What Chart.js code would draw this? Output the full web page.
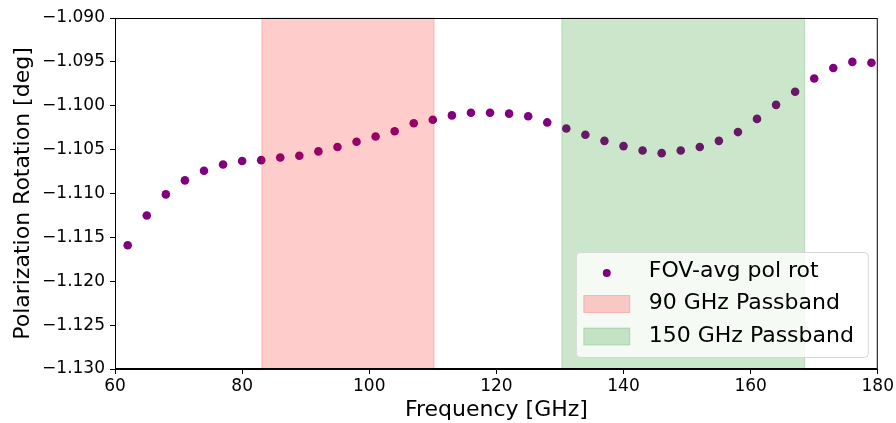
<!DOCTYPE html>
<html>
<head>
<meta charset="utf-8">
<script src="https://cdn.jsdelivr.net/npm/chart.js@4"></script>
<style>
  html, body { margin: 0; padding: 0; background: #fff; }
  #wrap { width: 896px; height: 423px; }
</style>
</head>
<body>
<div id="wrap"><canvas id="chartRot"></canvas></div>
<script>
// frequencies (GHz) and FOV-averaged polarization rotation (deg)
const freqGHz = [62, 65, 68, 71, 74, 77, 80, 83, 86, 89, 92, 95, 98, 101, 104, 107, 110, 113, 116, 119,
                 122, 125, 128, 131, 134, 137, 140, 143, 146, 149, 152, 155, 158, 161, 164, 167, 170, 173, 176, 179];
const polRot = [-1.1159, -1.1125, -1.1101, -1.1085, -1.1074, -1.1067, -1.1063, -1.1062, -1.1059, -1.1057,
                -1.1052, -1.1047, -1.1041, -1.1035, -1.1029, -1.1020, -1.1016, -1.1011, -1.1008, -1.1008,
                -1.1009, -1.1012, -1.1019, -1.1026, -1.1033, -1.1040, -1.1046, -1.1051, -1.1054, -1.1051,
                -1.1047, -1.1040, -1.1030, -1.1015, -1.0999, -1.0984, -1.0969, -1.0957, -1.0950, -1.0951];
// passband edges (GHz)
const band90 = [83.1, 110.2];
const band150 = [130.3, 168.5];
const xTicks = [60, 80, 100, 120, 140, 160, 180];
const yTicks = [-1.130, -1.125, -1.120, -1.115, -1.110, -1.105, -1.100, -1.095, -1.090];

const FONT = "'DejaVu Sans', sans-serif";
const red20 = 'rgba(255,0,0,0.2)';
const green20 = 'rgba(0,128,0,0.2)';

const fmt = v => (v < 0 ? '\u2212' : '') + Math.abs(v).toFixed(3);

// shaded passbands, drawn over the points like axvspan
const bandsPlugin = {
  id: 'bands',
  afterDatasetsDraw(chart) {
    const { ctx, chartArea: a, scales: { x } } = chart;
    ctx.save();
    [[band90, red20], [band150, green20]].forEach(([b, c]) => {
      const x0 = x.getPixelForValue(b[0]);
      const x1 = x.getPixelForValue(b[1]);
      ctx.fillStyle = c;
      ctx.fillRect(x0, a.top, x1 - x0, a.bottom - a.top);
      ctx.strokeStyle = c;
      ctx.lineWidth = 1;
      ctx.strokeRect(x0, a.top, x1 - x0, a.bottom - a.top);
    });
    // axes frame
    ctx.strokeStyle = '#000';
    ctx.lineWidth = 1;
    ctx.strokeRect(a.left + 0.5, a.top + 0.5, a.right - a.left - 1, a.bottom - a.top - 1);
    ctx.restore();
  }
};

// legend box in the lower right corner
const legendPlugin = {
  id: 'boxLegend',
  afterDraw(chart) {
    const { ctx, chartArea: a } = chart;
    const w = 292, h = 105;
    const lx = a.right - 10 - w, ly = a.bottom - 12 - h;
    ctx.save();
    ctx.beginPath();
    ctx.roundRect(lx + 0.5, ly + 0.5, w, h, 4);
    ctx.fillStyle = 'rgba(255,255,255,0.8)';
    ctx.fill();
    ctx.strokeStyle = '#d6d6d6';
    ctx.lineWidth = 1;
    ctx.stroke();

    const items = [
      { label: 'FOV-avg pol rot', kind: 'dot' },
      { label: '90 GHz Passband', kind: 'patch', color: red20 },
      { label: '150 GHz Passband', kind: 'patch', color: green20 }
    ];
    ctx.font = '22px ' + FONT;
    ctx.textBaseline = 'middle';
    items.forEach((it, i) => {
      const cy = ly + 19 + i * 32.5;
      if (it.kind === 'dot') {
        ctx.beginPath();
        ctx.arc(lx + 31, cy + 2, 4, 0, Math.PI * 2);
        ctx.fillStyle = '#800080';
        ctx.fill();
      } else {
        ctx.fillStyle = it.color;
        ctx.fillRect(lx + 8, cy - 8, 46, 17);
        ctx.strokeStyle = it.color;
        ctx.strokeRect(lx + 8, cy - 8, 46, 17);
      }
      ctx.fillStyle = '#000';
      ctx.fillText(it.label, lx + 73, cy);
    });
    ctx.restore();
  }
};

new Chart(document.getElementById('chartRot'), {
  type: 'scatter',
  data: {
    datasets: [{
      label: 'FOV-avg pol rot',
      data: freqGHz.map((f, i) => ({ x: f, y: polRot[i] })),
      backgroundColor: '#800080',
      borderColor: '#800080',
      pointRadius: 4.3,
      pointHoverRadius: 4.3,
      borderWidth: 0
    }]
  },
  options: {
    responsive: true,
    maintainAspectRatio: false,
    animation: false,
    layout: { padding: { top: 18, right: 18, left: 0, bottom: 0 } },
    plugins: {
      legend: { display: false },
      tooltip: { enabled: false }
    },
    scales: {
      x: {
        type: 'linear',
        min: 60,
        max: 180,
        afterBuildTicks: s => { s.ticks = xTicks.map(v => ({ value: v })); },
        afterFit: s => { s.height = 54; },
        ticks: { color: '#000', font: { family: FONT, size: 17 }, padding: 2, maxRotation: 0 },
        grid: { drawOnChartArea: false, drawTicks: true, tickLength: 5, color: '#000' },
        border: { color: '#000' },
        title: {
          display: true,
          text: 'Frequency [GHz]',
          color: '#000',
          font: { family: FONT, size: 22 },
          padding: { top: 2, bottom: 0 }
        }
      },
      y: {
        min: -1.130,
        max: -1.090,
        afterBuildTicks: s => { s.ticks = yTicks.map(v => ({ value: v })); },
        afterFit: s => { s.width = 115; },
        ticks: { color: '#000', font: { family: FONT, size: 17 }, padding: 5, callback: v => fmt(v) },
        grid: { drawOnChartArea: false, drawTicks: true, tickLength: 5, color: '#000' },
        border: { color: '#000' },
        title: {
          display: true,
          text: 'Polarization Rotation [deg]',
          color: '#000',
          font: { family: FONT, size: 22 },
          padding: { top: 10, bottom: 0 }
        }
      }
    }
  },
  plugins: [bandsPlugin, legendPlugin]
});
</script>
</body>
</html>
